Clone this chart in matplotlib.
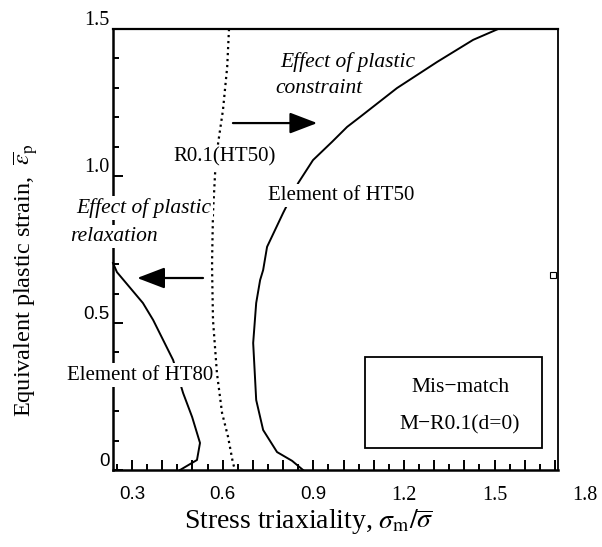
import numpy as np
import matplotlib
matplotlib.use("Agg")
import matplotlib.pyplot as plt
from matplotlib.ticker import MultipleLocator
import matplotlib.transforms as mtransforms

plt.rcParams['mathtext.fontset'] = 'stix'

# element of HT50 (solid, right)
ht50_x = [0.866, 0.830, 0.780, 0.734, 0.711, 0.701, 0.711, 0.724, 0.734, 0.747, 0.800,
          0.850, 0.899, 0.962, 1.012, 1.055, 1.177, 1.310, 1.429, 1.512]
ht50_y = [0.0, 0.031, 0.061, 0.136, 0.238, 0.432, 0.568, 0.646, 0.680, 0.759, 0.874,
          0.976, 1.054, 1.116, 1.167, 1.201, 1.299, 1.388, 1.463, 1.5]

# element of HT80 (solid, left)
ht80_x = [0.237, 0.250, 0.336, 0.370, 0.436, 0.469, 0.499, 0.525, 0.515, 0.459]
ht80_y = [0.704, 0.673, 0.568, 0.510, 0.374, 0.262, 0.180, 0.092, 0.034, 0.0]

# R0.1(HT50) (dotted)
r01_x = [0.621, 0.615, 0.601, 0.585, 0.575, 0.568, 0.565, 0.565, 0.568, 0.581, 0.598,
         0.618, 0.634, 0.641]
r01_y = [1.5, 1.371, 1.224, 1.112, 1.010, 0.874, 0.714, 0.680, 0.510, 0.330, 0.194,
         0.112, 0.024, 0.0]

xtick_vals = [0.3, 0.6, 0.9, 1.2, 1.5, 1.8]
xtick_fonts = ['Liberation Sans'] * 3 + ['Liberation Serif'] * 3
ytick_vals = [0, 0.5, 1.0, 1.5]
ytick_text = ['0', '0.5', '1.0', '1.5']
ytick_fonts = ['Liberation Sans', 'Liberation Sans', 'Liberation Serif', 'Liberation Serif']

fig = plt.figure(figsize=(6.02, 5.47), dpi=100)
ax = fig.add_axes([0.1877, 0.1408, 0.7392, 0.8062])
ax.set_xlim(0.237, 1.71)
ax.set_ylim(0, 1.5)

ax.plot(ht50_x, ht50_y, color='black', lw=1.4, zorder=2)
ax.plot(ht80_x, ht80_y, color='black', lw=1.4, zorder=2, clip_on=False)
ax.plot(r01_x, r01_y, color='black', lw=1.6, ls=(0, (1, 1.7)), zorder=2)
ax.plot([1.694], [0.663], marker='s', ms=4, mfc='white', mec='black', mew=0.8,
        clip_on=False, zorder=3)

for side, lw in [('left', 1.8), ('bottom', 1.8), ('top', 1.6), ('right', 1.3)]:
    ax.spines[side].set_linewidth(lw)

ax.xaxis.set_major_locator(MultipleLocator(0.1))
ax.xaxis.set_minor_locator(MultipleLocator(0.05))
ax.yaxis.set_major_locator(MultipleLocator(0.5))
ax.yaxis.set_minor_locator(MultipleLocator(0.1))
ax.tick_params(which='both', direction='in', top=False, right=False, width=1.4)
ax.tick_params(which='major', length=7)
ax.tick_params(which='minor', length=4)
ax.tick_params(axis='x', labelbottom=False)
ax.tick_params(axis='y', labelleft=False)

xtr = mtransforms.blended_transform_factory(ax.transData, ax.transAxes)
for v, f in zip(xtick_vals, xtick_fonts):
    size = 13.5 if 'Sans' in f else 14.5
    ax.text(v, -0.036, f'{v:.1f}', transform=xtr, ha='center', va='top',
            fontsize=size, family=f, clip_on=False)
ytr = mtransforms.blended_transform_factory(ax.transAxes, ax.transData)
for v, t, f in zip(ytick_vals, ytick_text, ytick_fonts):
    size = 13.5 if 'Sans' in f else 14.5
    ax.text(-0.008, v + 0.03, t, transform=ytr, ha='right', va='center',
            fontsize=size, family=f, clip_on=False)

serif = 'Liberation Serif'
white = dict(facecolor='white', edgecolor='none', pad=1.5)
ax.text(0.790, 1.388, 'Effect of plastic', style='italic', family=serif, fontsize=15.5,
        ha='left', va='center')
ax.text(0.774, 1.299, 'constraint', style='italic', family=serif, fontsize=15.5,
        ha='left', va='center')
ax.text(0.605, 1.065, 'R0.1(HT50)', family=serif, fontsize=15, ha='center', va='center',
        bbox=white, zorder=4)
ax.text(0.992, 0.935, 'Element of HT50', family=serif, fontsize=15, ha='center',
        va='center', bbox=white, zorder=4)
ax.text(0.338, 0.891, 'Effect of plastic', style='italic', family=serif, fontsize=15.5,
        ha='center', va='center', bbox=white, zorder=4, clip_on=False)
ax.text(0.095, 0.793, 'relaxation', style='italic', family=serif, fontsize=15.5,
        ha='left', va='center', bbox=white, zorder=4, clip_on=False)
ax.text(0.326, 0.323, 'Element of HT80', family=serif, fontsize=15, ha='center',
        va='center', bbox=white, zorder=4, clip_on=False)

ap = dict(arrowstyle='-|>,head_length=1.7,head_width=0.65', mutation_scale=10,
          lw=1.6, color='black', shrinkA=0, shrinkB=0)
ax.annotate('', xy=(0.913, 1.180), xytext=(0.634, 1.180), arrowprops=ap)
ax.annotate('', xy=(0.317, 0.653), xytext=(0.535, 0.653), arrowprops=ap)

ax.add_patch(plt.Rectangle((1.072, 0.075), 0.586, 0.309, fill=False, lw=1.3,
                           edgecolor='black', zorder=3))
ax.text(1.386, 0.279, 'Mis\u2212match', family=serif, fontsize=15.5, ha='center', va='center')
ax.text(1.386, 0.153, 'M\u2212R0.1(d=0)', family=serif, fontsize=15.5, ha='center', va='center')

ax.set_xlabel(r'Stress triaxiality, $\sigma_{\rm m}/\overline{\sigma}$', family=serif,
              fontsize=20, va='top')
ax.xaxis.set_label_coords(0.44, -0.083)
ax.set_ylabel(r'Equivalent plastic strain,  $\overline{\varepsilon}_{\rm p}$',
              family=serif, fontsize=17.5)
ax.yaxis.set_label_coords(-0.165, 0.43)

fig.savefig('out.png', dpi=100)
